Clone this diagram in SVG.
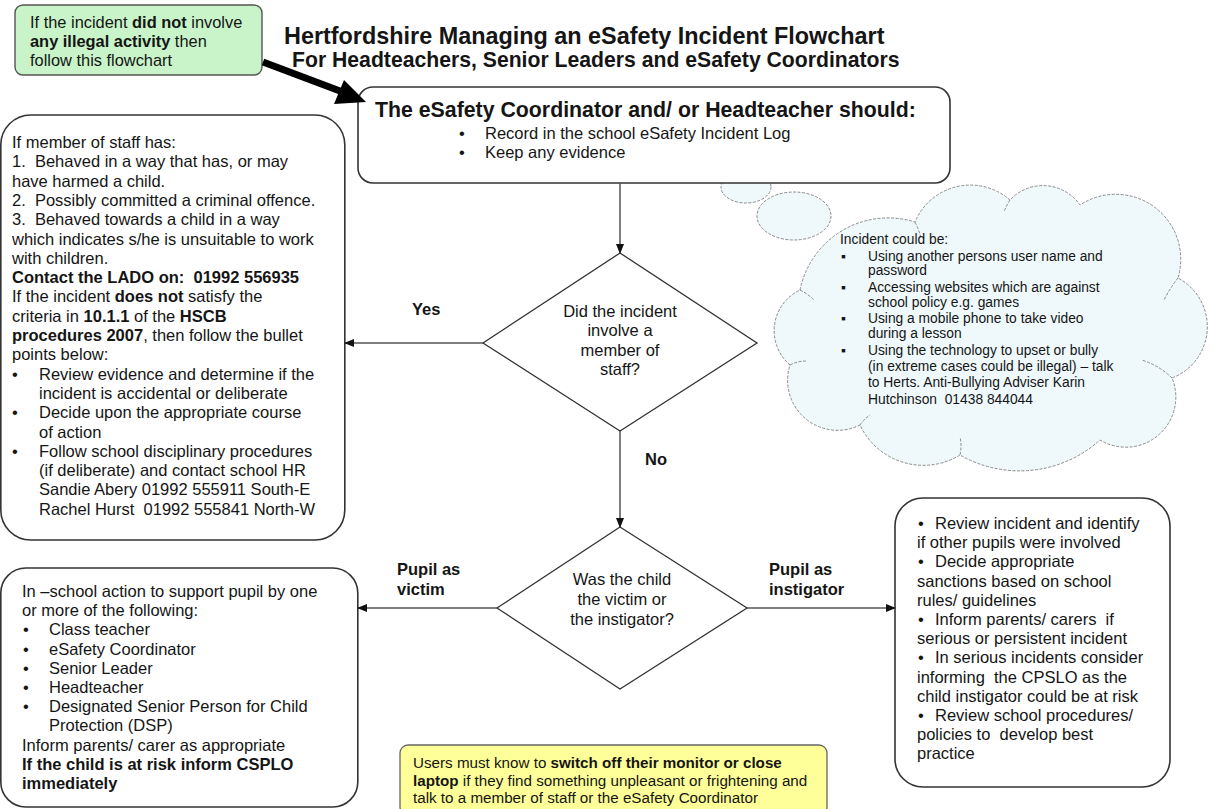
<svg xmlns="http://www.w3.org/2000/svg" width="1215" height="809" viewBox="0 0 1215 809">
<style>
.t{font-family:"Liberation Sans",Arial,sans-serif;font-size:16.5px;fill:#151515;white-space:pre}
.b{font-weight:bold}
.c{text-anchor:middle}
.box{fill:#fff;stroke:#333;stroke-width:1.6}
.dia{fill:#fff;stroke:#333;stroke-width:1.3}
.conn{stroke:#555;stroke-width:1.5;fill:none}
.cloud{fill:#eff9fc;stroke:#8a8a8a;stroke-width:1;stroke-dasharray:3 1.5}
.cl{font-size:13.8px}
</style>
<defs>
<marker id="ah" markerWidth="10" markerHeight="8" refX="9" refY="4" orient="auto" markerUnits="userSpaceOnUse">
<path d="M0,0 L10,4 L0,8 Z" fill="#111"/>
</marker>
</defs>
<rect width="1215" height="809" fill="#fff"/>

<g id="title">
<text class="t b" x="284" y="44" style="font-size:23.4px">Hertfordshire Managing an eSafety Incident Flowchart</text>
<text class="t b" x="292" y="67" style="font-size:21.2px">For Headteachers, Senior Leaders and eSafety Coordinators</text>
</g>

<g id="note-green">
<rect x="15" y="5" width="247" height="70" rx="8" fill="#c9f4c9" stroke="#555" stroke-width="1.4"/>
<text class="t" x="30" y="28" style="font-size:16.4px">If the incident <tspan class="b">did not</tspan> involve</text>
<text class="t" x="30" y="47" style="font-size:16.4px"><tspan class="b">any illegal activity</tspan> then</text>
<text class="t" x="30" y="66" style="font-size:16.4px">follow this flowchart</text>
</g>

<g id="cloud">
<ellipse class="cloud" cx="715" cy="169" rx="12.5" ry="8"/>
<ellipse class="cloud" cx="746" cy="187" rx="25" ry="16"/>
<ellipse class="cloud" cx="794" cy="216" rx="37" ry="24"/>
<path class="cloud" d="M800,290 A90,90 0 0 1 915,222 A60,60 0 0 1 1010,200 A45,45 0 0 1 1080,205 A65,65 0 0 1 1178,278 A55,55 0 0 1 1172,378 A50,50 0 0 1 1100,440 A120,120 0 0 1 960,455 A70,70 0 0 1 860,425 A50,50 0 0 1 790,365 A45,45 0 0 1 800,290 Z"/>
<path class="cloud" fill="none" d="M915,222 q4,8 6,16 M1010,200 q-4,6 -6,12 M1178,278 q-8,10 -14,22 M1172,378 q-12,-12 -30,-18 M960,455 q2,-10 0,-18 M860,425 q4,-6 10,-10 M790,365 q8,-4 16,-4 M800,290 q8,4 14,10"/>
<text class="t cl" x="840" y="244">Incident could be:</text>
<text class="t cl" x="841" y="261">▪</text><text class="t cl" x="868" y="261">Using another persons user name and</text>
<text class="t cl" x="868" y="275">password</text>
<text class="t cl" x="841" y="292">▪</text><text class="t cl" x="868" y="292">Accessing websites which are against</text>
<text class="t cl" x="868" y="307">school policy e.g. games</text>
<text class="t cl" x="841" y="323">▪</text><text class="t cl" x="868" y="323">Using a mobile phone to take video</text>
<text class="t cl" x="868" y="338">during a lesson</text>
<text class="t cl" x="841" y="355">▪</text><text class="t cl" x="868" y="355">Using the technology to upset or bully</text>
<text class="t cl" x="868" y="371">(in extreme cases could be illegal) – talk</text>
<text class="t cl" x="868" y="387">to Herts. Anti-Bullying Adviser Karin</text>
<text class="t cl" x="868" y="404">Hutchinson  01438 844044</text>
</g>

<g id="start-box">
<rect class="box" x="358" y="87" width="592" height="96" rx="15"/>
<text class="t b" x="375" y="117" style="font-size:21.3px">The eSafety Coordinator and/ or Headteacher should:</text>
<text class="t" x="459" y="139">•</text><text class="t" x="485" y="139">Record in the school eSafety Incident Log</text>
<text class="t" x="459" y="158">•</text><text class="t" x="485" y="158">Keep any evidence</text>
</g>

<g id="staff-box">
<rect class="box" x="0.8" y="115" width="344" height="425" rx="30"/>
<text class="t" x="12" y="148">If member of staff has:</text>
<text class="t" x="12" y="167.3">1.  Behaved in a way that has, or may</text>
<text class="t" x="12" y="186.6">have harmed a child.</text>
<text class="t" x="12" y="205.9">2.  Possibly committed a criminal offence.</text>
<text class="t" x="12" y="225.2">3.  Behaved towards a child in a way</text>
<text class="t" x="12" y="244.5">which indicates s/he is unsuitable to work</text>
<text class="t" x="12" y="263.8">with children.</text>
<text class="t b" x="12" y="283.1">Contact the LADO on:  01992 556935</text>
<text class="t" x="12" y="302.4">If the incident <tspan class="b">does not</tspan> satisfy the</text>
<text class="t" x="12" y="321.7">criteria in <tspan class="b">10.1.1</tspan> of the <tspan class="b">HSCB</tspan></text>
<text class="t" x="12" y="341"><tspan class="b">procedures 2007</tspan>, then follow the bullet</text>
<text class="t" x="12" y="360.3">points below:</text>
<text class="t" x="12" y="379.6">•</text><text class="t" x="39" y="379.6">Review evidence and determine if the</text>
<text class="t" x="39" y="398.9">incident is accidental or deliberate</text>
<text class="t" x="12" y="418.2">•</text><text class="t" x="39" y="418.2">Decide upon the appropriate course</text>
<text class="t" x="39" y="437.5">of action</text>
<text class="t" x="12" y="456.8">•</text><text class="t" x="39" y="456.8">Follow school disciplinary procedures</text>
<text class="t" x="39" y="476.1">(if deliberate) and contact school HR</text>
<text class="t" x="39" y="495.4">Sandie Abery 01992 555911 South-E</text>
<text class="t" x="39" y="514.7">Rachel Hurst  01992 555841 North-W</text>
</g>

<g id="decision-staff">
<polygon class="dia" points="620,253 757,343 620,431 483,343"/>
<text class="t c" x="620" y="317">Did the incident</text>
<text class="t c" x="620" y="336">involve a</text>
<text class="t c" x="620" y="355.5">member of</text>
<text class="t c" x="620" y="375">staff?</text>
</g>

<g id="decision-pupil">
<polygon class="dia" points="620,527 747,608 620,689 497,608"/>
<text class="t c" x="622" y="585">Was the child</text>
<text class="t c" x="622" y="605">the victim or</text>
<text class="t c" x="622" y="625">the instigator?</text>
</g>

<g id="victim-box">
<rect class="box" x="0.8" y="568" width="357" height="239" rx="25"/>
<text class="t" x="22" y="597">In –school action to support pupil by one</text>
<text class="t" x="22" y="616.2">or more of the following:</text>
<text class="t" x="23" y="635.4">•</text><text class="t" x="49" y="635.4">Class teacher</text>
<text class="t" x="23" y="654.6">•</text><text class="t" x="49" y="654.6">eSafety Coordinator</text>
<text class="t" x="23" y="673.8">•</text><text class="t" x="49" y="673.8">Senior Leader</text>
<text class="t" x="23" y="693">•</text><text class="t" x="49" y="693">Headteacher</text>
<text class="t" x="23" y="712.2">•</text><text class="t" x="49" y="712.2">Designated Senior Person for Child</text>
<text class="t" x="49" y="731.4">Protection (DSP)</text>
<text class="t" x="22" y="750.6">Inform parents/ carer as appropriate</text>
<text class="t b" x="22" y="769.8">If the child is at risk inform CSPLO</text>
<text class="t b" x="22" y="789">immediately</text>
</g>

<g id="instigator-box">
<rect class="box" x="895" y="498" width="275" height="289" rx="28"/>
<text class="t" x="918" y="529">•</text><text class="t" x="935" y="529">Review incident and identify</text>
<text class="t" x="917" y="548.2">if other pupils were involved</text>
<text class="t" x="918" y="567.4">•</text><text class="t" x="935" y="567.4">Decide appropriate</text>
<text class="t" x="917" y="586.6">sanctions based on school</text>
<text class="t" x="917" y="605.8">rules/ guidelines</text>
<text class="t" x="918" y="625">•</text><text class="t" x="935" y="625">Inform parents/ carers  if</text>
<text class="t" x="917" y="644.2">serious or persistent incident</text>
<text class="t" x="918" y="663.4">•</text><text class="t" x="935" y="663.4">In serious incidents consider</text>
<text class="t" x="917" y="682.6">informing  the CPSLO as the</text>
<text class="t" x="917" y="701.8">child instigator could be at risk</text>
<text class="t" x="918" y="721">•</text><text class="t" x="935" y="721">Review school procedures/</text>
<text class="t" x="917" y="740.2">policies to  develop best</text>
<text class="t" x="917" y="759.4">practice</text>
</g>

<g id="note-yellow">
<rect x="400" y="745" width="427" height="70" rx="8" fill="#ffff99" stroke="#666" stroke-width="1.3"/>
<text class="t" x="413" y="768" style="font-size:15.2px">Users must know to <tspan class="b">switch off their monitor or close</tspan></text>
<text class="t" x="413" y="785.5" style="font-size:15.2px"><tspan class="b">laptop</tspan> if they find something unpleasant or frightening and</text>
<text class="t" x="413" y="803" style="font-size:15.2px">talk to a member of staff or the eSafety Coordinator</text>
</g>

<g id="connectors">
<line x1="263" y1="62" x2="340" y2="91" stroke="#000" stroke-width="7"/>
<polygon points="366,102 334,104 344,80" fill="#000"/>
<line class="conn" x1="620" y1="183" x2="620" y2="253" marker-end="url(#ah)"/>
<line class="conn" x1="483" y1="343" x2="345" y2="343" marker-end="url(#ah)"/>
<line class="conn" x1="620" y1="431" x2="620" y2="527" marker-end="url(#ah)"/>
<line class="conn" x1="497" y1="608" x2="358" y2="608" marker-end="url(#ah)"/>
<line class="conn" x1="747" y1="608" x2="895" y2="608" marker-end="url(#ah)"/>
<text class="t b" x="412" y="315">Yes</text>
<text class="t b" x="645" y="465">No</text>
<text class="t b" x="397" y="575">Pupil as</text>
<text class="t b" x="397" y="595">victim</text>
<text class="t b" x="769" y="575">Pupil as</text>
<text class="t b" x="769" y="595">instigator</text>
</g>
</svg>
